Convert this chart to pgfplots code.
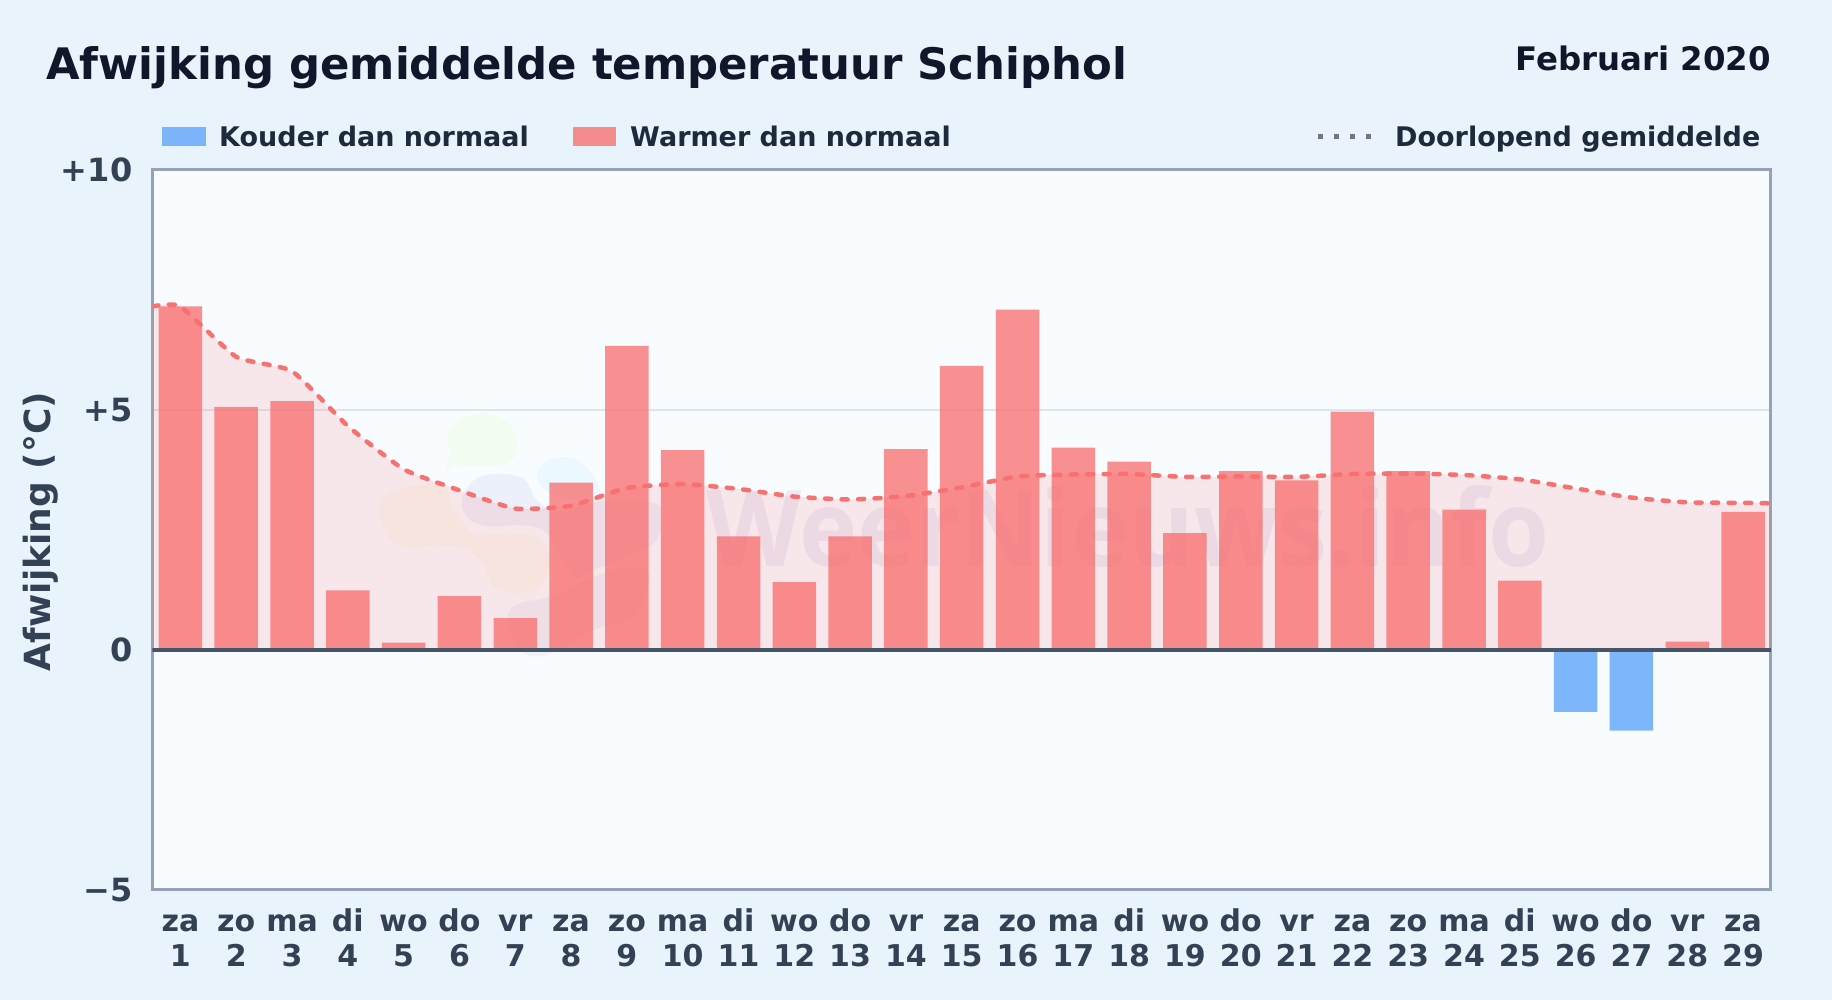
\documentclass[border=0pt]{standalone}
\usepackage{fontspec}
\setmainfont{DejaVu Sans}
\newfontfamily\wmfont{Open Sans}
\usepackage{pgfplots}
\pgfplotsset{compat=1.18}

\definecolor{pagebg}{HTML}{E8F3FC}
\definecolor{plotbg}{HTML}{F8FCFF}
\definecolor{warm}{HTML}{F87171}
\definecolor{warmarea}{HTML}{FF6B6E}
\definecolor{cold}{HTML}{60A5FA}
\definecolor{titlecol}{HTML}{0F172A}
\definecolor{legendcol}{HTML}{1E293B}
\definecolor{tickcol}{HTML}{334155}
\definecolor{framecol}{HTML}{94A3B8}
\definecolor{gridcol}{HTML}{DFE5EC}
\definecolor{zerocol}{HTML}{475569}

\newcommand{\fs}[1]{\fontsize{#1}{#1}\selectfont\bfseries}
\newcommand{\dl}[2]{\rule{0pt}{24pt}#1\\#2}

\begin{document}
\begin{tikzpicture}[x=1pt,y=1pt]
\path[use as bounding box,fill=pagebg] (0,0) rectangle (1832,1000);
\fill[plotbg] (152.5,110) rectangle (1771,830.5);

% watermark
\begin{scope}[shift={(360,600)},x=0.3333pt,y=-0.3333pt]
\fill[green!40!yellow!35,opacity=.16] plot[smooth cycle,tension=.7] coordinates {(265,100)(310,55)(385,40)(450,75)(472,140)(440,190)(340,200)(280,195)(255,225)(270,160)};
\fill[cyan!40,opacity=.13] plot[smooth cycle,tension=.7] coordinates {(530,225)(570,180)(640,175)(690,215)(720,280)(660,300)(570,280)};
\fill[blue!45!gray!60,opacity=.11] plot[smooth cycle,tension=.6] coordinates {(305,300)(350,235)(430,222)(495,240)(530,300)(600,340)(690,310)(800,300)(900,320)(890,420)(800,470)(700,510)(640,530)(560,400)(480,375)(400,380)(330,360)};
\fill[orange!50!yellow!60,opacity=.09] plot[smooth cycle,tension=.6] coordinates {(58,340)(90,280)(180,255)(250,255)(280,320)(340,400)(450,400)(540,420)(570,490)(540,560)(470,580)(400,560)(370,490)(320,450)(240,435)(150,445)(90,420)};
\fill[blue!45!gray!60,opacity=.09] plot[smooth cycle,tension=.6] coordinates {(445,640)(480,610)(570,590)(640,560)(700,530)(820,500)(870,530)(820,650)(700,690)(610,745)(530,770)(480,750)(450,700)};
\end{scope}
\node[anchor=base west,inner sep=0,xscale=.93,text=blue!35!gray,opacity=.09,font=\wmfont\fontsize{106}{106}\selectfont\bfseries] at (706,433) {WeerNieuws.info};

\begin{axis}[
    at={(152.5pt,110pt)},
    anchor=south west,
    scale only axis,
    width=1618.5pt,
    height=720.5pt,
    xmin=0.5, xmax=29.5,
    ymin=-5, ymax=10,
    xtick={1,...,29},
    xticklabels={{\dl{za}{1}},{\dl{zo}{2}},{\dl{ma}{3}},{\dl{di}{4}},{\dl{wo}{5}},{\dl{do}{6}},{\dl{vr}{7}},{\dl{za}{8}},{\dl{zo}{9}},{\dl{ma}{10}},{\dl{di}{11}},{\dl{wo}{12}},{\dl{do}{13}},{\dl{vr}{14}},{\dl{za}{15}},{\dl{zo}{16}},{\dl{ma}{17}},{\dl{di}{18}},{\dl{wo}{19}},{\dl{do}{20}},{\dl{vr}{21}},{\dl{za}{22}},{\dl{zo}{23}},{\dl{ma}{24}},{\dl{di}{25}},{\dl{wo}{26}},{\dl{do}{27}},{\dl{vr}{28}},{\dl{za}{29}}},
    ytick={-5,0,5,10},
    yticklabels={−5,0,+5,+10},
    major tick length=0pt,
    ymajorgrids=true,
    grid style={draw=gridcol,line width=2pt},
    axis line style={draw=framecol,line width=3pt},
    x tick label style={font=\fontsize{30}{35}\selectfont\bfseries,text=tickcol,align=center,inner sep=0pt,yshift=-17pt},
    y tick label style={font=\fs{32},text=tickcol,inner sep=0pt,xshift=-20pt},
    ylabel={Afwijking (°C)},
    ylabel style={font=\fs{36},text=tickcol,at={(axis description cs:-0.0692,0.4975)},anchor=center},
]

% doorlopend gemiddelde: vlak
\addplot[fill=warmarea,fill opacity=.14,draw=none,smooth,tension=.3] coordinates {
    (0.5,7.15)(1,7.15)(2,6.10)(3,5.80)(4,4.66)(5,3.76)(6,3.32)(7,2.94)(8,3.00)(9,3.37)(10,3.45)
    (11,3.35)(12,3.19)(13,3.13)(14,3.20)(15,3.38)(16,3.61)(17,3.65)(18,3.66)(19,3.60)(20,3.61)
    (21,3.60)(22,3.66)(23,3.67)(24,3.64)(25,3.55)(26,3.36)(27,3.17)(28,3.07)(29,3.06)(29.5,3.05)
} \closedcycle;

% warmer dan normaal
\addplot[ybar,bar width=43.5pt,bar shift=0pt,fill=warm,fill opacity=.78,draw=none] coordinates {
    (1,7.15)(2,5.06)(3,5.18)(4,1.24)(5,0.15)(6,1.12)(7,0.66)(8,3.48)(9,6.33)(10,4.16)
    (11,2.36)(12,1.41)(13,2.36)(14,4.18)(15,5.91)(16,7.08)(17,4.21)(18,3.92)(19,2.43)(20,3.72)
    (21,3.53)(22,4.96)(23,3.72)(24,2.92)(25,1.44)(28,0.17)(29,2.87)
};

% kouder dan normaal
\addplot[ybar,bar width=43.5pt,bar shift=0pt,fill=cold,fill opacity=.8,draw=none] coordinates {
    (26,-1.29)(27,-1.68)
};

% doorlopend gemiddelde: lijn
\addplot[warm,line width=4.5pt,line cap=round,dash pattern=on 6pt off 10.5pt,smooth,tension=.3] coordinates {
    (0.5,7.15)(1,7.15)(2,6.10)(3,5.80)(4,4.66)(5,3.76)(6,3.32)(7,2.94)(8,3.00)(9,3.37)(10,3.45)
    (11,3.35)(12,3.19)(13,3.13)(14,3.20)(15,3.38)(16,3.61)(17,3.65)(18,3.66)(19,3.60)(20,3.61)
    (21,3.60)(22,3.66)(23,3.67)(24,3.64)(25,3.55)(26,3.36)(27,3.17)(28,3.07)(29,3.06)(29.5,3.05)
};

% nullijn
\addplot[zerocol,line width=3.5pt] coordinates {(0.5,0)(29.5,0)};

\end{axis}

% titels
\node[anchor=base west,inner sep=0,text=titlecol,font=\fs{43.4}] at (46,920) {Afwijking gemiddelde temperatuur Schiphol};
\node[anchor=base east,inner sep=0,text=titlecol,font=\fs{32.4}] at (1771,929) {Februari 2020};

% legenda
\fill[cold,opacity=.8] (161.6,854) rectangle (205.8,873.3);
\node[anchor=base west,inner sep=0,text=legendcol,font=\fs{27}] at (219,853.3) {Kouder dan normaal};
\fill[warm,opacity=.8] (573,854) rectangle (616,873.3);
\node[anchor=base west,inner sep=0,text=legendcol,font=\fs{27}] at (630,853.3) {Warmer dan normaal};
\draw[draw=zerocol!80,line width=4.5pt,dash pattern=on 4.5pt off 11.5pt] (1318,863.3) -- (1374,863.3);
\node[anchor=base west,inner sep=0,text=legendcol,font=\fs{27}] at (1395,853.3) {Doorlopend gemiddelde};
\end{tikzpicture}
\end{document}
